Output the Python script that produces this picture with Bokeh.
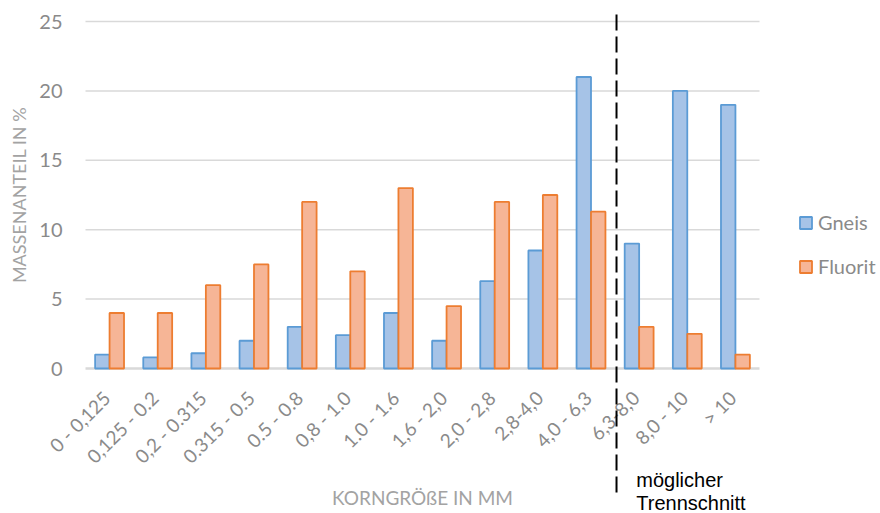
import math
from bokeh.plotting import figure
from bokeh.models import (ColumnDataSource, Legend, LegendItem, Arrow, Label, Range1d)
from bokeh.core.properties import value
from bokeh.embed import file_html
from bokeh.resources import INLINE

categories = ["0 - 0,125", "0,125 - 0.2", "0,2 - 0.315", "0.315 - 0.5", "0.5 - 0.8",
              "0,8 - 1.0", "1.0 - 1.6", "1,6 - 2,0", "2,0 - 2,8", "2,8-4,0",
              "4,0 - 6,3", "6,3-8,0", "8,0 - 10", "> 10"]
gneis = [1, 0.8, 1.1, 2, 3, 2.4, 4, 2, 6.3, 8.5, 21, 9, 20, 19]
fluorit = [4, 4, 6, 7.5, 12, 7, 13, 4.5, 12, 12.5, 11.3, 3, 2.5, 1]
y_ticks = [0, 5, 10, 15, 20, 25]
y_tick_labels = ["0", "5", "10", "15", "20", "25"]
cut_category = "6,3-8,0"

FONT = "Lato"
TICK_COLOR = "#8a8a8a"
TITLE_COLOR = "#a3a3a3"
GRID_COLOR = "#d9d9d9"

n = len(categories)
pos = [i + 0.5 for i in range(n)]          # category centres on the x scale
src = ColumnDataSource(dict(cat=categories, pos=pos, gneis=gneis, fluorit=fluorit,
                            pos_g=[x - 0.15 for x in pos], pos_f=[x + 0.15 for x in pos]))
ysrc = ColumnDataSource(dict(y=y_ticks, label=y_tick_labels))

# the frame covers the whole canvas; the category area spans x = 0..n
# (674 px wide, starting 85 px from the left edge), y = 0..25 spans 347 px
unit_x = 674 / n
unit_y = 347 / 25
p = figure(x_range=Range1d(-85 / unit_x, 795 / unit_x),
           y_range=Range1d(-145 / unit_y, 25 + 21 / unit_y),
           width=880, height=513, output_backend="svg", toolbar_location=None,
           min_border=0)
p.axis.visible = False
p.grid.visible = False
p.outline_line_color = None

# horizontal grid lines across the category area
p.segment(x0=0, x1=n, y0=y_ticks[1:], y1=y_ticks[1:], line_color=GRID_COLOR, line_width=1.5)
p.segment(x0=0, x1=n, y0=y_ticks[0], y1=y_ticks[0], line_color=GRID_COLOR, line_width=2.5)

r1 = p.vbar(x="pos_g", top="gneis", width=0.3, source=src,
            fill_color="#a6c3e7", line_color="#5b9bd5", line_width=1.8)
r2 = p.vbar(x="pos_f", top="fluorit", width=0.3, source=src,
            fill_color="#f6b596", line_color="#ed7d31", line_width=1.8)

# y tick labels and title
p.text(x=-23 / unit_x, y="y", text="label", source=ysrc, text_align="right",
       text_baseline="middle", text_font=value(FONT), text_font_size="20px",
       text_color=TICK_COLOR)
p.add_layout(Label(x=-67 / unit_x, y=12.5, text="MASSENANTEIL IN %", angle=math.pi / 2,
                   text_align="center", text_baseline="middle", text_font=FONT,
                   text_font_size="18px", text_color=TITLE_COLOR))

# rotated category labels under the zero line
p.text(x="pos", y=-26 / unit_y, text="cat", source=src, angle=math.pi / 4,
       x_offset=-3, text_align="right", text_baseline="middle",
       text_font=value(FONT), text_font_size="19px", text_color=TICK_COLOR)

p.add_layout(Label(x=n / 2, y=-129 / unit_y, text="KORNGRÖßE IN MM",
                   text_align="center", text_baseline="middle", text_font=FONT,
                   text_font_size="19px", text_color=TITLE_COLOR))

legend = Legend(items=[LegendItem(label="Gneis", renderers=[r1]),
                       LegendItem(label="Fluorit", renderers=[r2])],
                location=(798, 234), orientation="vertical",
                glyph_width=15, glyph_height=15, label_height=26, spacing=18,
                label_standoff=5, padding=0, margin=0,
                border_line_color=None, background_fill_alpha=0,
                label_text_font=FONT, label_text_font_size="20px",
                label_text_color=TICK_COLOR)
p.add_layout(legend, "center")

cut_x = categories.index(cut_category) + 0.03
p.add_layout(Arrow(end=None, x_start=cut_x, y_start=25 + 7 / unit_y, x_end=cut_x,
                   y_end=-127 / unit_y, line_color="black", line_width=2, line_dash="16 6"))
p.add_layout(Label(x=cut_x + 0.41, y=-111 / unit_y, text="möglicher",
                   text_font="Liberation Sans", text_font_size="20px", text_color="black",
                   text_baseline="alphabetic"))
p.add_layout(Label(x=cut_x + 0.41, y=-134 / unit_y, text="Trennschnitt",
                   text_font="Liberation Sans", text_font_size="20px", text_color="black",
                   text_baseline="alphabetic"))

open("out.html", "w").write(file_html(p, INLINE))
